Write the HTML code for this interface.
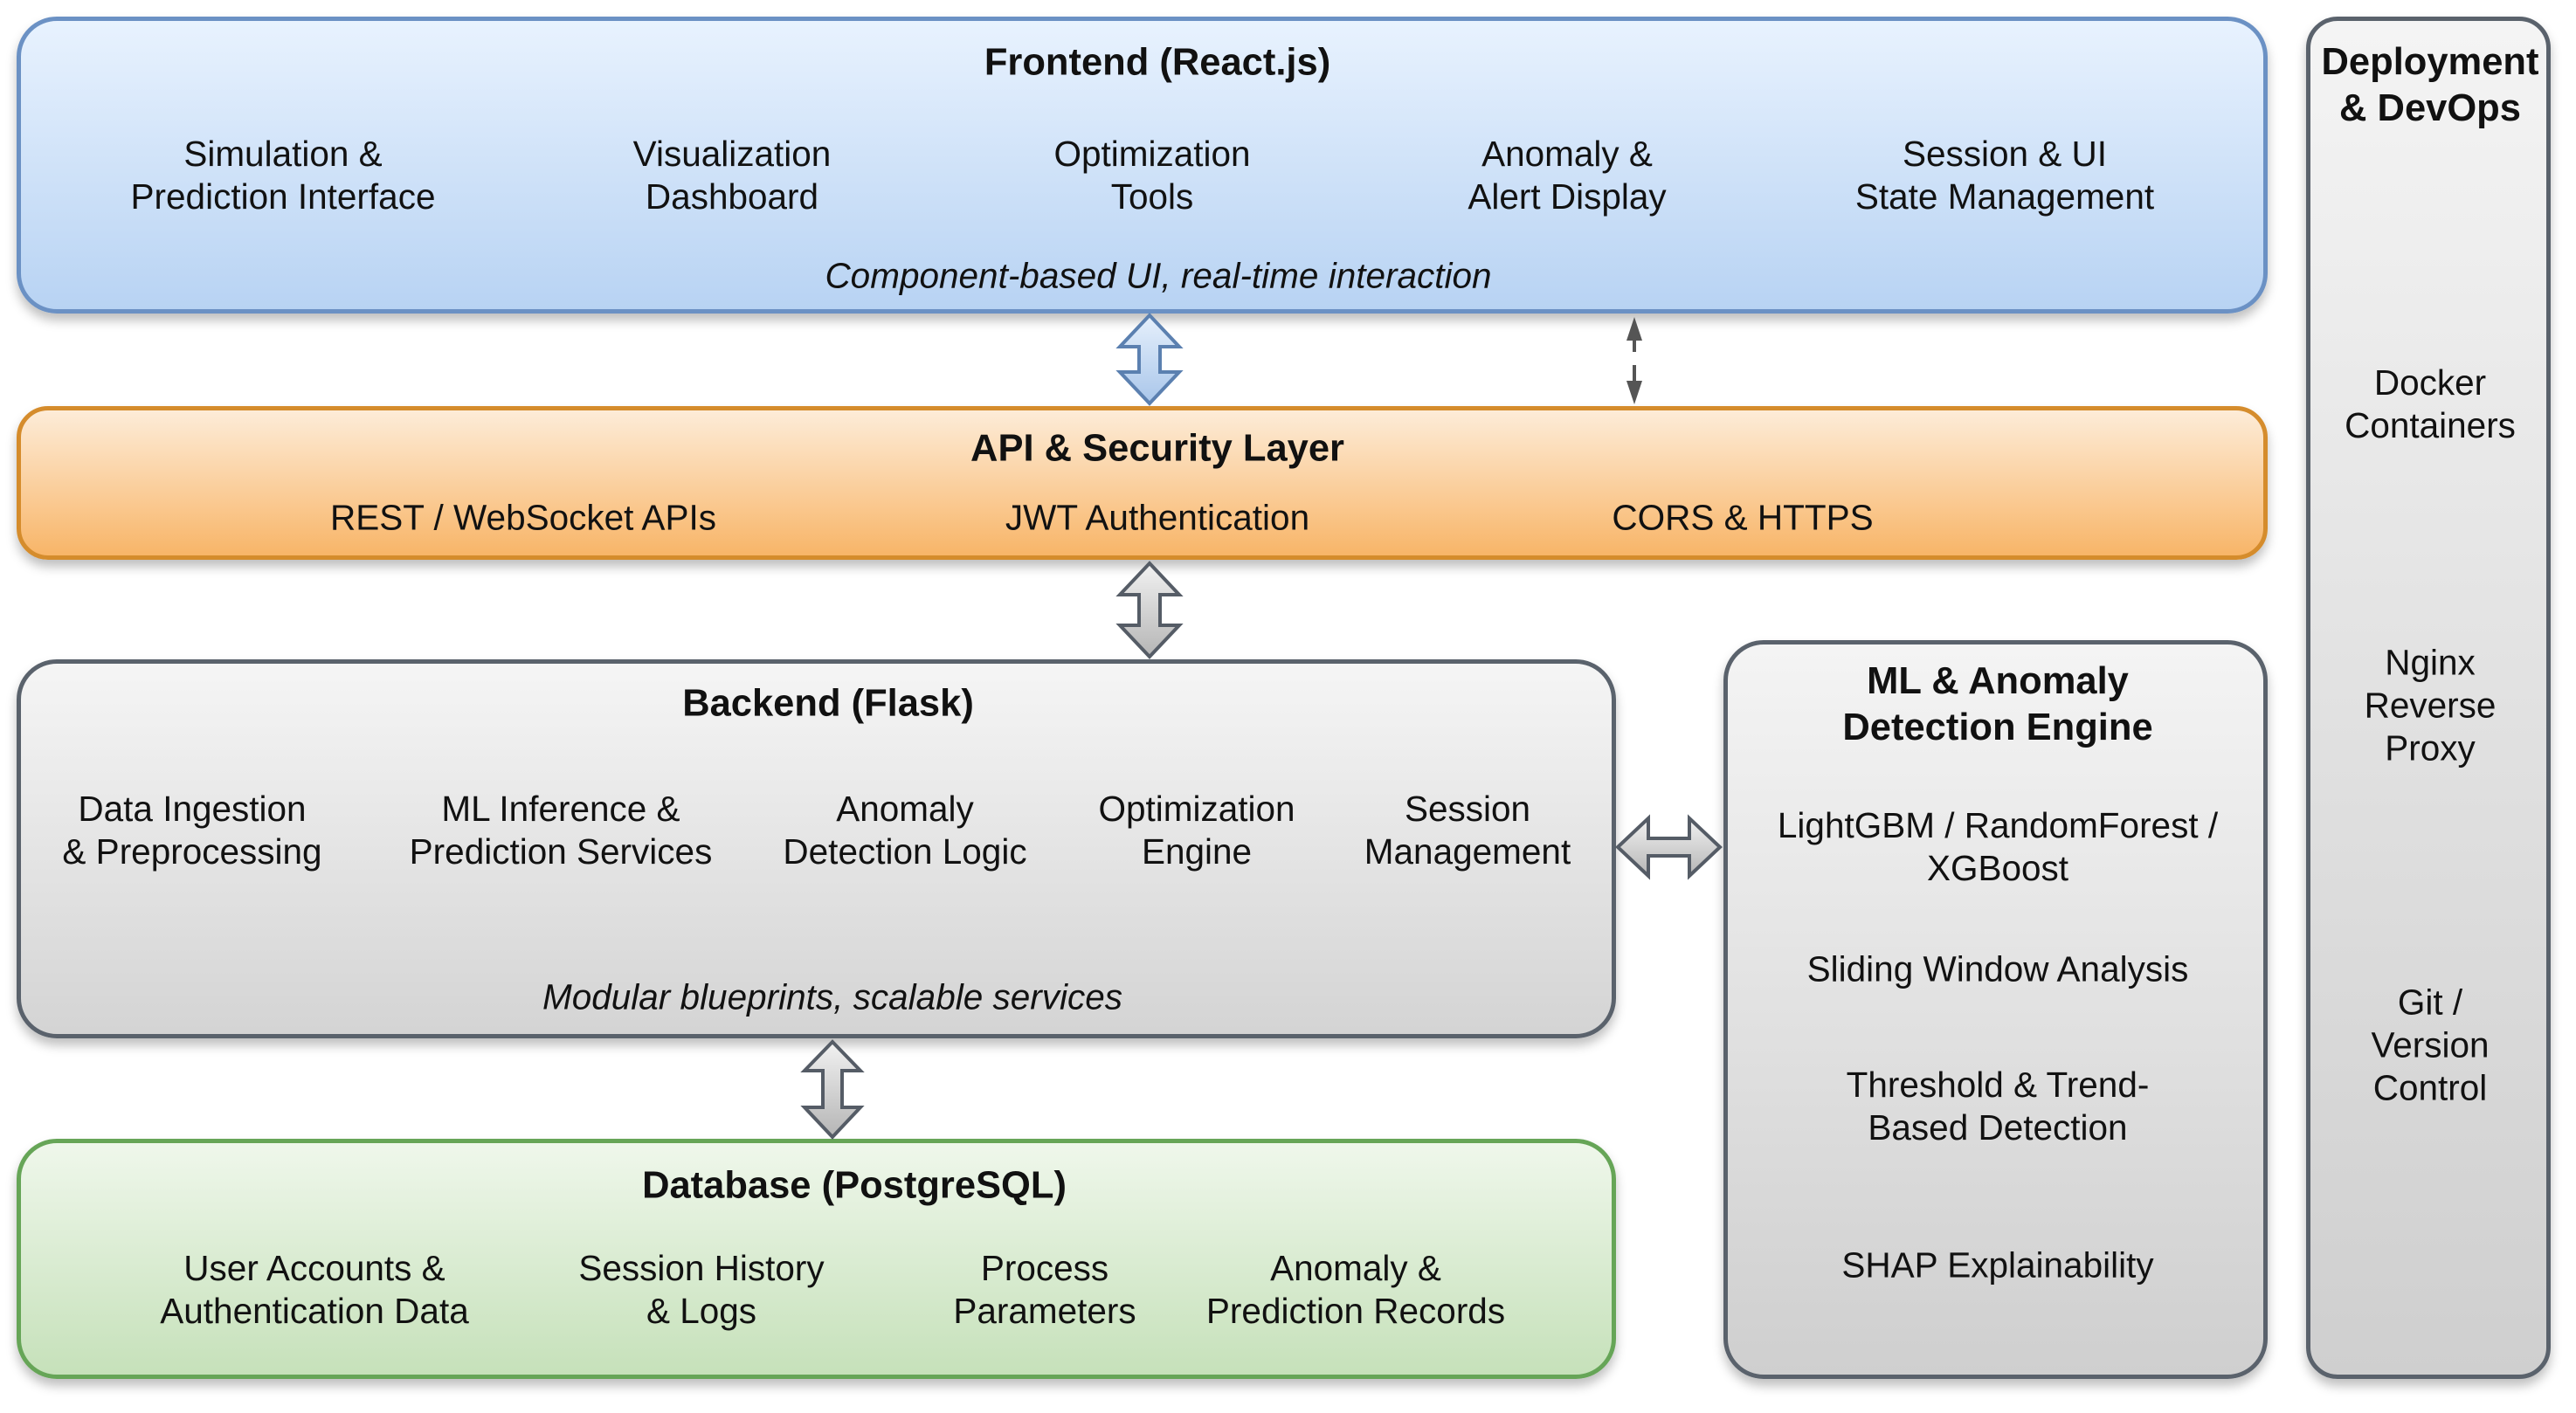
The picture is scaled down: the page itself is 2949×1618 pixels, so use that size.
<!DOCTYPE html>
<html><head><meta charset="utf-8">
<style>
html,body{margin:0;padding:0;background:#fff;}
body{width:2949px;height:1618px;position:relative;overflow:hidden;font-family:"Liberation Sans",Arial,sans-serif;color:#111;}
.box{position:absolute;box-sizing:border-box;border-radius:46px;border:5px solid;box-shadow:0 8px 12px rgba(0,0,0,0.25);}
.fe{left:19px;top:19px;width:2577px;height:340px;border-color:#6b91c4;background:linear-gradient(#e8f2fe,#b8d3f3);}
.api{left:19px;top:465px;width:2577px;height:176px;border-color:#d58c2c;border-radius:36px;background:linear-gradient(#fdecd8,#f8b568);}
.be{left:19px;top:755px;width:1831px;height:434px;border-color:#5a626c;background:linear-gradient(#f5f5f5,#d4d4d4);}
.db{left:19px;top:1304px;width:1831px;height:275px;border-color:#66a557;background:linear-gradient(#eff7eb,#c6e1ba);}
.ml{left:1973px;top:733px;width:623px;height:846px;border-color:#5a626c;background:linear-gradient(#f4f4f4,#cfcfcf);}
.dv{left:2640px;top:19px;width:280px;height:1560px;border-color:#5a626c;border-radius:36px;background:linear-gradient(#f4f4f4,#cfcfcf);}
.t{position:absolute;transform:translate(-50%,-50%);text-align:center;white-space:nowrap;font-size:40.5px;line-height:49px;}
.b{font-weight:bold;font-size:43.5px;line-height:53px;}
.i{font-style:italic;}
svg{position:absolute;left:0;top:0;}
</style></head><body>
<div class="box fe"></div>
<div class="box api"></div>
<div class="box be"></div>
<div class="box db"></div>
<div class="box ml"></div>
<div class="box dv"></div>

<svg width="2949" height="1618">
<defs>
<linearGradient id="gb" x1="0" y1="0" x2="0" y2="1"><stop offset="0" stop-color="#e6f0fc"/><stop offset="1" stop-color="#a9c6ea"/></linearGradient>
<linearGradient id="gg" x1="0" y1="0" x2="0" y2="1"><stop offset="0" stop-color="#f2f2f2"/><stop offset="1" stop-color="#b5b5b5"/></linearGradient>
</defs>
<polygon points="1316,361 1350,397 1328,397 1328,426 1350,426 1316,462 1282,426 1304,426 1304,397 1282,397" fill="url(#gb)" stroke="#5b80b0" stroke-width="4" stroke-linejoin="miter"/>
<polygon points="1316,645 1350,681 1328,681 1328,716 1350,716 1316,752 1282,716 1304,716 1304,681 1282,681" fill="url(#gg)" stroke="#555c66" stroke-width="4"/>
<polygon points="953,1193 985,1226 964,1226 964,1268 985,1268 953,1302 921,1268 942,1268 942,1226 921,1226" fill="url(#gg)" stroke="#555c66" stroke-width="4"/>
<polygon points="1852,970 1887,937 1887,960 1934,960 1934,937 1969,970 1934,1003 1934,980 1887,980 1887,1003" fill="url(#gg)" stroke="#555c66" stroke-width="4"/>
<line x1="1871" y1="390" x2="1871" y2="403" stroke="#555" stroke-width="4"/>
<polygon points="1871,363 1862,390 1880,390" fill="#555"/>
<line x1="1871" y1="418" x2="1871" y2="438" stroke="#555" stroke-width="4"/>
<polygon points="1871,463 1862,436 1880,436" fill="#555"/>
</svg>

<div class="t b" style="left:1325px;top:72px">Frontend (React.js)</div>
<div class="t" style="left:324px;top:201px">Simulation &amp;<br>Prediction Interface</div>
<div class="t" style="left:838px;top:201px">Visualization<br>Dashboard</div>
<div class="t" style="left:1319px;top:201px">Optimization<br>Tools</div>
<div class="t" style="left:1794px;top:201px">Anomaly &amp;<br>Alert Display</div>
<div class="t" style="left:2295px;top:201px">Session &amp; UI<br>State Management</div>
<div class="t i" style="left:1326px;top:316px">Component-based UI, real-time interaction</div>

<div class="t b" style="left:1325px;top:514px">API &amp; Security Layer</div>
<div class="t" style="left:599px;top:593px">REST / WebSocket APIs</div>
<div class="t" style="left:1325px;top:593px">JWT Authentication</div>
<div class="t" style="left:1995px;top:593px">CORS &amp; HTTPS</div>

<div class="t b" style="left:948px;top:806px">Backend (Flask)</div>
<div class="t" style="left:220px;top:951px">Data Ingestion<br>&amp; Preprocessing</div>
<div class="t" style="left:642px;top:951px">ML Inference &amp;<br>Prediction Services</div>
<div class="t" style="left:1036px;top:951px">Anomaly<br>Detection Logic</div>
<div class="t" style="left:1370px;top:951px">Optimization<br>Engine</div>
<div class="t" style="left:1680px;top:951px">Session<br>Management</div>
<div class="t i" style="left:953px;top:1142px">Modular blueprints, scalable services</div>

<div class="t b" style="left:978px;top:1358px">Database (PostgreSQL)</div>
<div class="t" style="left:360px;top:1477px">User Accounts &amp;<br>Authentication Data</div>
<div class="t" style="left:803px;top:1477px">Session History<br>&amp; Logs</div>
<div class="t" style="left:1196px;top:1477px">Process<br>Parameters</div>
<div class="t" style="left:1552px;top:1477px">Anomaly &amp;<br>Prediction Records</div>

<div class="t b" style="left:2287px;top:807px">ML &amp; Anomaly<br>Detection Engine</div>
<div class="t" style="left:2287px;top:970px">LightGBM / RandomForest /<br>XGBoost</div>
<div class="t" style="left:2287px;top:1110px">Sliding Window Analysis</div>
<div class="t" style="left:2287px;top:1267px">Threshold &amp; Trend-<br>Based Detection</div>
<div class="t" style="left:2287px;top:1449px">SHAP Explainability</div>

<div class="t b" style="left:2782px;top:98px">Deployment<br>&amp; DevOps</div>
<div class="t" style="left:2782px;top:463px">Docker<br>Containers</div>
<div class="t" style="left:2782px;top:808px">Nginx<br>Reverse<br>Proxy</div>
<div class="t" style="left:2782px;top:1197px">Git /<br>Version<br>Control</div>
</body></html>
